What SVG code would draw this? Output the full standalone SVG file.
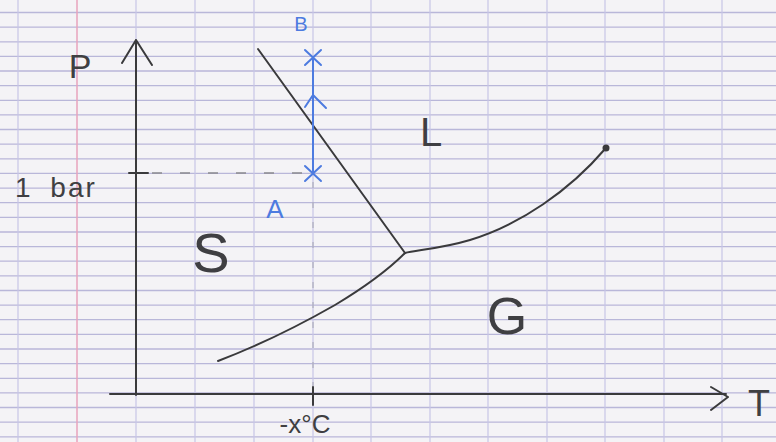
<svg xmlns="http://www.w3.org/2000/svg" width="776" height="442" viewBox="0 0 776 442">
<style>
.hl{stroke:#b9b7d9;stroke-width:1.3;fill:none}
.vl{stroke:#c7c6e6;stroke-width:1.2;fill:none}
.ink{stroke:#3a3a3c;stroke-width:2;fill:none;stroke-linecap:round;stroke-linejoin:round}
.blue{stroke:#4d7be0;stroke-width:2;fill:none;stroke-linecap:round;stroke-linejoin:round}
.t{font-family:"Liberation Sans","DejaVu Sans",sans-serif;fill:#3f3f42}
.tb{font-family:"Liberation Sans","DejaVu Sans",sans-serif;fill:#4d7be0}
</style>
<rect width="776" height="442" fill="#f4f3f6"/>
<g id="paper">
<path class="hl" d="M0 12.5H776M0 27.1H776M0 41.8H776M0 56.4H776M0 71H776M0 85.7H776M0 100.3H776M0 114.9H776M0 129.5H776M0 144.2H776M0 158.8H776M0 173.4H776M0 188.1H776M0 202.7H776M0 217.3H776M0 232H776M0 246.6H776M0 261.2H776M0 275.8H776M0 290.5H776M0 305.1H776M0 319.7H776M0 334.4H776M0 349H776M0 363.6H776M0 378.3H776M0 392.9H776M0 407.5H776M0 422.1H776M0 436.8H776"/>
<path class="vl" d="M18 0V442M136 0V442M195 0V442M254 0V442M313 0V442M371 0V442M430 0V442M488 0V442M547 0V442M605 0V442M664 0V442M722 0V442"/>
<path d="M77 0V442" stroke="#e9a3bd" stroke-width="1.5"/>
</g>
<g id="axes">
<path class="ink" d="M136 395V40M122 63L136 40L152 65"/>
<path class="ink" d="M110 394H726M711 387L728 397L711 410"/>
<path class="ink" d="M129 173H148M313 387V405"/>
<path d="M152 173H305" stroke="#8a8a8e" stroke-width="1.4" stroke-dasharray="10 18" fill="none"/>
<path d="M313 182V386" stroke="#a4a4b0" stroke-width="1" stroke-dasharray="6 14" fill="none"/>
</g>
<g id="curves">
<path class="ink" d="M258 49L405 253"/>
<path class="ink" d="M218 361C260 345 300 325 335 305C365 287 390 268 405 253"/>
<path class="ink" d="M405 253C415 250 440 249 470 240C520 225 570 190 605 149"/>
<circle cx="606" cy="148" r="3.5" fill="#3a3a3c"/>
</g>
<g id="path-AB">
<path class="blue" d="M313 173V57M305 50L321 65M321 50L305 65M305 166L321 181M321 166L305 181M305 107L313 95L326 108"/>
</g>
<g id="labels">
<text class="t" x="80" y="78" font-size="34" text-anchor="middle">P</text>
<text class="t" x="15" y="197" font-size="28" letter-spacing="2" word-spacing="8">1 bar</text>
<text class="t" x="211" y="272" font-size="56" text-anchor="middle">S</text>
<text class="t" x="420" y="146" font-size="40">L</text>
<text class="t" x="507" y="334" font-size="52" text-anchor="middle">G</text>
<text class="t" x="305" y="433" font-size="26" text-anchor="middle">-x°C</text>
<text class="t" x="759" y="416" font-size="36" text-anchor="middle">T</text>
<text class="tb" x="275" y="218" font-size="26" text-anchor="middle">A</text>
<text class="tb" x="301" y="31" font-size="20" text-anchor="middle">B</text>
</g>
</svg>
